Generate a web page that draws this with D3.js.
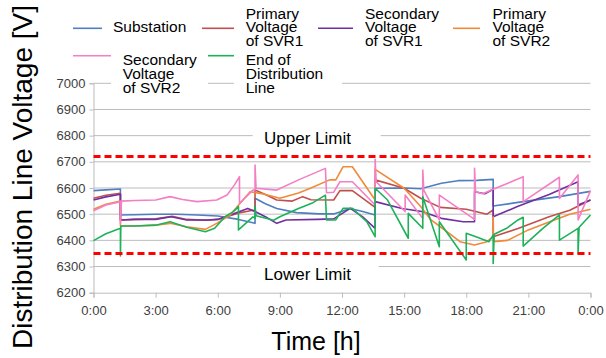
<!DOCTYPE html>
<html>
<head>
<meta charset="utf-8">
<script src="https://cdn.jsdelivr.net/npm/d3@7"></script>
<style>
  body { margin: 0; background: #fff; }
  svg { display: block; font-family: "Liberation Sans", Arial, sans-serif; }
</style>
</head>
<body>
<svg id="chart" width="606" height="358"></svg>
<script>
// values: [hour, volts]
const substation = [[0,6590],[0.6,6593],[1.3,6596],[1.3,6497],[2,6498],[3,6500],[4,6500],[5,6497],[6,6493],[7,6480],[7.8,6465],[7.8,6561],[8.3,6540],[8.85,6522],[9.8,6506],[10.9,6501],[11.6,6501],[12.4,6522],[13,6510],[13.6,6497],[13.6,6599],[15,6600],[15.8,6597],[16.8,6618],[17.6,6628],[18.5,6629],[19.3,6633],[19.3,6531],[20.75,6548],[22.5,6567],[24,6587]];
const primarySVR1 = [[0,6561],[0.6,6572],[1.3,6580],[1.3,6478],[2,6480],[3,6482],[3.8,6492],[4.5,6480],[5.5,6477],[6,6480],[7.1,6506],[7.7,6515],[7.8,6510],[7.8,6592],[8.3,6575],[8.85,6554],[9.6,6550],[10.1,6567],[10.5,6555],[11.6,6554],[11.9,6590],[12.5,6590],[13.6,6526],[13.6,6631],[15,6599],[15.8,6561],[16.75,6526],[18,6519],[19,6500],[19.3,6516],[19.3,6414],[20.5,6445],[22,6490],[23,6515],[24,6554]];
const secondarySVR1 = [[0,6554],[0.6,6566],[1.3,6576],[1.3,6478],[2,6480],[3,6480],[3.75,6490],[4.5,6478],[5.5,6478],[6,6480],[6.6,6497],[7.45,6522],[7.8,6510],[8.3,6490],[8.85,6465],[9.3,6478],[10.8,6480],[11.6,6482],[12.4,6522],[13,6490],[13.6,6446],[13.6,6548],[14.9,6522],[15.85,6510],[16.8,6484],[17.85,6471],[18.4,6471],[18.4,6586],[18.9,6578],[19.3,6595],[19.3,6490],[20.5,6530],[22,6575],[23.4,6624],[23.4,6535],[24,6554]];
const primarySVR2 = [[0,6519],[0.6,6538],[1.3,6550],[1.3,6455],[2,6455],[3,6458],[3.7,6465],[4.5,6452],[5.4,6442],[5.95,6465],[6.6,6497],[7.1,6544],[7.56,6586],[8.2,6577],[9,6561],[9.9,6581],[10.5,6600],[11.4,6631],[11.7,6631],[12.05,6681],[12.5,6681],[13.6,6554],[13.6,6671],[15,6599],[15.8,6529],[16.3,6478],[16.75,6452],[17.7,6395],[18.4,6382],[19,6395],[19.3,6414],[19.3,6490],[19.32,6395],[20,6400],[21,6440],[22,6470],[23,6500],[24,6519]];
const secondarySVR2 = [[0,6513],[0.6,6535],[1.3,6548],[1.3,6465],[1.35,6550],[2,6552],[3,6554],[3.7,6567],[4.3,6556],[5,6548],[5.95,6554],[6.45,6573],[6.8,6611],[7.05,6643],[7.05,6541],[7.7,6592],[7.8,6592],[7.8,6688],[7.85,6599],[8.85,6592],[9.9,6631],[11.2,6675],[11.25,6582],[11.6,6584],[11.9,6624],[12.5,6624],[13.6,6535],[13.6,6710],[13.65,6624],[15.05,6510],[15.05,6573],[15.9,6484],[15.9,6669],[15.95,6592],[16.7,6478],[16.7,6573],[18.4,6480],[18.4,6675],[18.45,6586],[18.8,6578],[19.3,6595],[20.75,6643],[20.75,6548],[22.5,6641],[22.5,6560],[23.4,6650],[23.4,6478],[24,6590]];
const endOfLine = [[0,6399],[0.6,6425],[1.3,6446],[1.3,6340],[1.32,6455],[2,6455],[3,6458],[3.7,6471],[4.5,6450],[5.4,6433],[5.85,6446],[6.35,6490],[6.75,6510],[7,6529],[7,6440],[7.7,6490],[7.8,6484],[7.8,6530],[7.85,6494],[8.7,6477],[9,6490],[9.9,6522],[10.6,6544],[11.2,6573],[11.25,6478],[11.7,6478],[12.05,6522],[12.5,6522],[13.2,6471],[13.6,6414],[13.6,6599],[14.2,6554],[15.2,6408],[15.2,6503],[15.9,6446],[15.9,6567],[16.7,6376],[16.7,6471],[18,6325],[18,6427],[18.6,6410],[19.1,6395],[19.3,6420],[19.3,6312],[19.35,6423],[19.95,6446],[20.5,6478],[20.75,6488],[20.75,6378],[21.7,6446],[22.5,6497],[22.5,6401],[23.4,6446],[23.4,6350],[23.45,6450],[24,6497]];

const yTicks = [6200, 6300, 6400, 6500, 6600, 6700, 6800, 6900, 7000];
const xTicks = [0, 3, 6, 9, 12, 15, 18, 21, 24];
const xTickLabels = ["0:00", "3:00", "6:00", "9:00", "12:00", "15:00", "18:00", "21:00", "0:00"];
const limits = [6720, 6350];
const limitLabels = ["Upper Limit", "Lower Limit"];

const series = [
  { name: ["Substation"], data: substation, color: "#4f7fc0" },
  { name: ["Primary", "Voltage", "of SVR1"], data: primarySVR1, color: "#c0504d" },
  { name: ["Secondary", "Voltage", "of SVR1"], data: secondarySVR1, color: "#7030a0" },
  { name: ["Primary", "Voltage", "of SVR2"], data: primarySVR2, color: "#f08a3a" },
  { name: ["Secondary", "Voltage", "of SVR2"], data: secondarySVR2, color: "#f47fc4" },
  { name: ["End of", "Distribution", "Line"], data: endOfLine, color: "#1db25a" }
];

const svg = d3.select("#chart");
const gridColor = "#bcbcbc";

const x = d3.scaleLinear().domain([0, 24]).range([93.5, 590.5]);
const y = d3.scaleLinear().domain([6200, 7000]).range([292.7, 83.3]);

// gridlines
svg.append("g").selectAll("line").data(yTicks.slice(1)).enter().append("line")
  .attr("x1", x(0)).attr("x2", x(24))
  .attr("y1", d => y(d)).attr("y2", d => y(d))
  .attr("stroke", gridColor).attr("stroke-width", 1);

// axes
const yAxis = svg.append("g").attr("transform", `translate(${x(0)},0)`)
  .call(d3.axisLeft(y).tickValues(yTicks).tickSize(4).tickPadding(4).tickFormat(d3.format("d")));
const xAxis = svg.append("g").attr("transform", `translate(0,${y(6200)})`)
  .call(d3.axisBottom(x).tickValues(xTicks).tickSize(5).tickPadding(8).tickFormat((d, i) => xTickLabels[i]));
[yAxis, xAxis].forEach(g => {
  g.select(".domain").attr("stroke", gridColor);
  g.selectAll(".tick line").attr("stroke", gridColor);
  g.selectAll("text").attr("fill", "#404040").style("font-size", "13px")
    .style("font-family", "'Liberation Sans', Arial, sans-serif");
});

// white boxes behind the limit labels and legend text (they hide gridlines)
const masks = [[252.7, 126, 128, 22], [250.7, 262, 128, 22], [111, 48, 97, 48], [234, 48, 108, 48]];
svg.append("g").selectAll("rect").data(masks).enter().append("rect")
  .attr("x", d => d[0]).attr("y", d => d[1]).attr("width", d => d[2]).attr("height", d => d[3])
  .attr("fill", "#fff");

svg.selectAll(".limitLabel").data(limitLabels).enter().append("text")
  .attr("class", "limitLabel")
  .attr("x", 264).attr("y", (d, i) => i === 0 ? 144 : 280)
  .style("font-size", "17px").attr("fill", "#000")
  .text(d => d);

// series
const line = d3.line().x(d => x(d[0])).y(d => y(d[1]));
svg.append("g").selectAll("path").data(series).enter().append("path")
  .attr("d", d => line(d.data))
  .attr("fill", "none")
  .attr("stroke", d => d.color)
  .attr("stroke-width", 1.6)
  .attr("stroke-linejoin", "round");

// voltage limits
svg.append("g").selectAll("line").data(limits).enter().append("line")
  .attr("x1", x(0)).attr("x2", x(24))
  .attr("y1", d => y(d)).attr("y2", d => y(d))
  .attr("stroke", "#ff0000").attr("stroke-width", 3)
  .attr("stroke-dasharray", "7,4");

// legend: marker span, marker y, text x, text line centres
const legendPos = [
  { mx: [73, 102], my: 28.3, tx: 113, ty: [26.7] },
  { mx: [202, 234], my: 28.3, tx: 245.7, ty: [13.3, 26.9, 40.5] },
  { mx: [318, 353], my: 28.3, tx: 365, ty: [13.3, 26.9, 40.5] },
  { mx: [453, 480], my: 28.3, tx: 492.5, ty: [13.3, 26.9, 40.5] },
  { mx: [73, 111], my: 55.7, tx: 122.7, ty: [60, 73.6, 87.2] },
  { mx: [208, 234], my: 55.7, tx: 245.7, ty: [60, 73.6, 87.2] }
];
const legend = svg.append("g").selectAll("g").data(series).enter().append("g");
legend.append("line")
  .attr("x1", (d, i) => legendPos[i].mx[0]).attr("x2", (d, i) => legendPos[i].mx[1])
  .attr("y1", (d, i) => legendPos[i].my).attr("y2", (d, i) => legendPos[i].my)
  .attr("stroke", d => d.color).attr("stroke-width", 1.6);
legend.each(function (d, i) {
  const p = legendPos[i];
  d3.select(this).selectAll("text").data(d.name).enter().append("text")
    .attr("x", p.tx)
    .attr("y", (t, j) => p.ty[j])
    .attr("dy", "0.35em")
    .style("font-size", "15.5px").attr("fill", "#000")
    .text(t => t);
});

// axis titles
svg.append("text")
  .attr("transform", "translate(31.5,177) rotate(-90)")
  .attr("text-anchor", "middle")
  .style("font-size", "28px").attr("fill", "#000")
  .text("Distribution Line Voltage [V]");
svg.append("text")
  .attr("x", 316).attr("y", 350)
  .attr("text-anchor", "middle")
  .style("font-size", "25px").attr("fill", "#000")
  .text("Time [h]");
</script>
</body>
</html>
